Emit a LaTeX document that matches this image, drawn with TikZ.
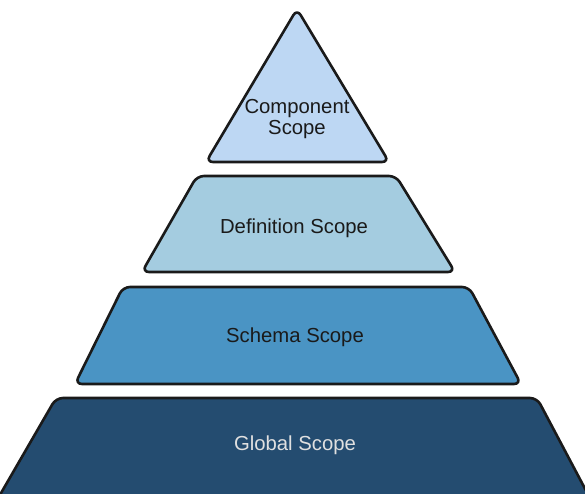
\documentclass[tikz,border=0pt]{standalone}
\usepackage{fontspec}
\setmainfont{Liberation Sans}

\definecolor{componentblue}{HTML}{BDD7F3}
\definecolor{definitionblue}{HTML}{A4CCE0}
\definecolor{schemablue}{HTML}{4A94C4}
\definecolor{globalblue}{HTML}{244C70}
\definecolor{outline}{HTML}{1A1A1A}

\begin{document}
\begin{tikzpicture}[x=1pt, y=-1pt]
        \tikzstyle{every node}=[font=\fontsize{20.3}{21}\selectfont, align=center, text=outline]
        \tikzstyle{level}=[draw=outline, line width=2.6pt, rounded corners=7pt, line join=round]

        \useasboundingbox (0,0) rectangle (585,494);
        \clip (0,0) rectangle (585,494);

        \draw[level, fill=globalblue] (56,398) -- (537,398) -- (591,500) -- (-3,500) -- cycle;
        \draw[level, fill=schemablue] (123,287) -- (469,287) -- (521,384) -- (75,384) -- cycle;
        \draw[level, fill=definitionblue] (197,176) -- (396,176) -- (455,272) -- (142,272) -- cycle;
        \draw[level, fill=componentblue] (297,9) -- (389,162) -- (206,162) -- cycle;

        \node (component) at (297,119) {Component\\Scope};
        \node (definition) at (294,228) {Definition Scope};
        \node (schema) at (295,337) {Schema Scope};
        \node[text=white!88!black] (global) at (295,445) {Global Scope};
\end{tikzpicture}
\end{document}
